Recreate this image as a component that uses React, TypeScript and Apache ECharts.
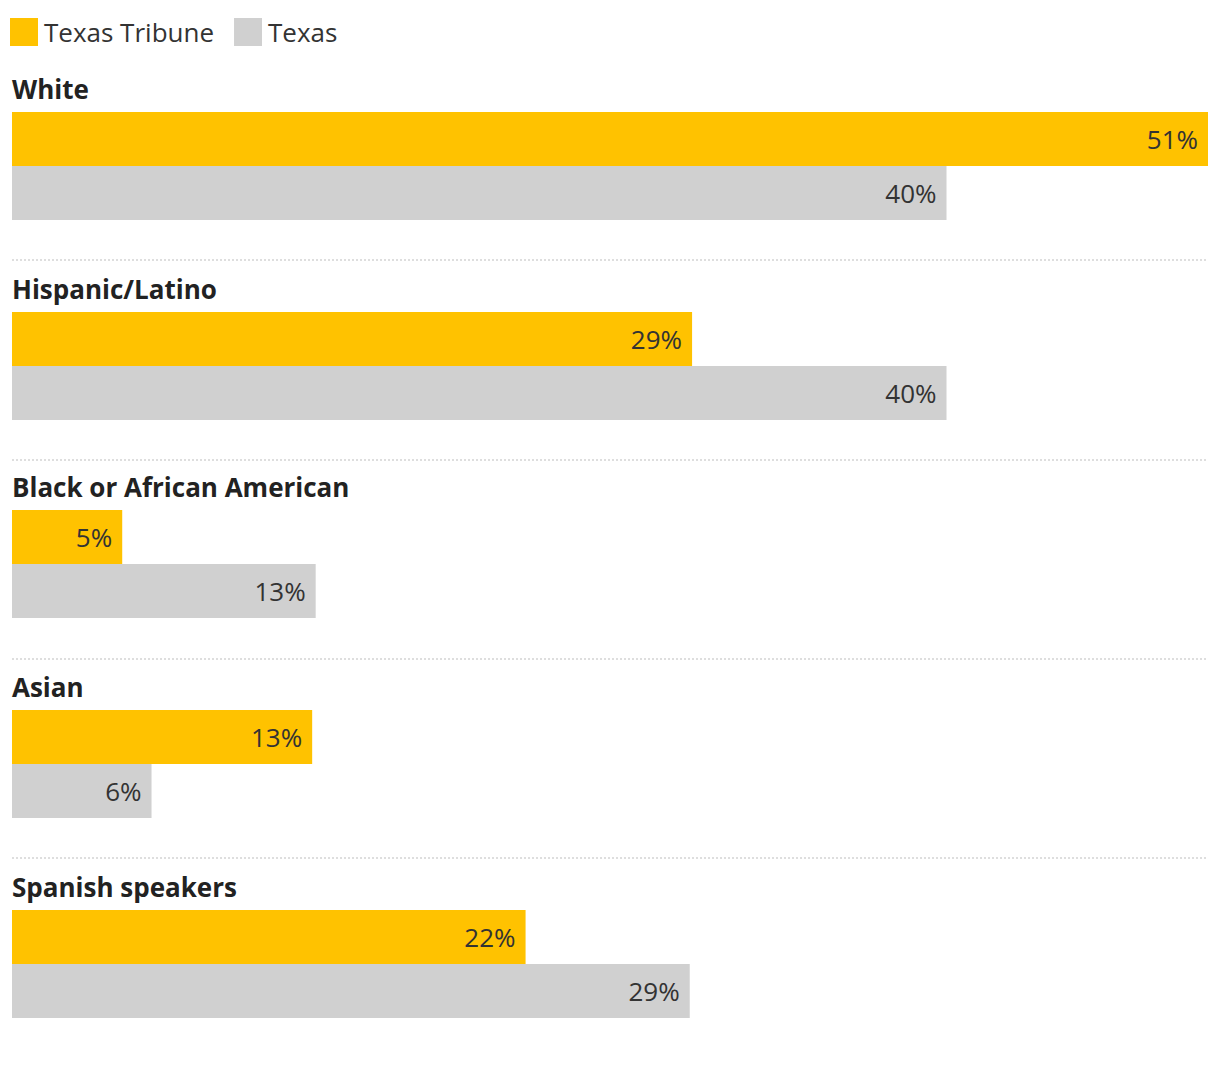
import React, { useEffect, useRef } from "react";
import * as echarts from "echarts";

const categories = ["White", "Hispanic/Latino", "Black or African American", "Asian", "Spanish speakers"];
const seriesNames = ["Texas Tribune", "Texas"];
const tribuneValues = [51, 29, 4.7, 12.8, 21.9];
const texasValues = [39.85, 39.85, 12.95, 5.95, 28.9];
const colors = ["#ffc200", "#d0d0d0"];

const FONT = "'Open Sans', 'Noto Sans', sans-serif";
const gridTops = [104, 304, 502, 702, 902];
const sepYs = [252, 452, 651, 850];

export default function App() {
  const ref = useRef<HTMLDivElement>(null);
  useEffect(() => {
    if (!ref.current) return;
    const chart = echarts.init(ref.current, null, { renderer: "svg" });
    const grids: any[] = [];
    const xAxes: any[] = [];
    const yAxes: any[] = [];
    const series: any[] = [];
    const graphics: any[] = [];
    const maxV = Math.max(...tribuneValues, ...texasValues);
    categories.forEach((cat, i) => {
      grids.push({ left: 4, right: 4, top: gridTops[i], height: 108 });
      xAxes.push({ gridIndex: i, type: "value", min: 0, max: maxV, show: false });
      yAxes.push({ gridIndex: i, type: "category", data: [cat], inverse: true, show: false });
      [tribuneValues, texasValues].forEach((vals, k) => {
        series.push({
          type: "bar",
          name: seriesNames[k],
          xAxisIndex: i,
          yAxisIndex: i,
          data: [vals[i]],
          barWidth: 54,
          barGap: "0%",
          barCategoryGap: 0,
          itemStyle: { color: colors[k] },
          label: {
            show: true,
            position: "insideRight",
            distance: 10,
            fontFamily: FONT,
            fontSize: 26,
            color: "#333",
            formatter: (p: any) => Math.round(p.value) + "%",
          },
        });
      });
      graphics.push({
        type: "text",
        left: 4,
        top: gridTops[i] - 36,
        style: { text: cat, fontFamily: FONT, fontSize: 26, fontWeight: "bold", fill: "#222" },
      });
    });
    sepYs.forEach((y) => {
      graphics.push({
        type: "line",
        shape: { x1: 4, y1: y, x2: 1200, y2: y },
        style: { stroke: "#d3d3d3", lineWidth: 1.5, lineDash: [2, 2] },
      });
    });
    chart.setOption({
      animation: false,
      legend: {
        left: 2,
        top: 10,
        padding: 0,
        itemWidth: 28,
        itemHeight: 28,
        itemGap: 20,
        icon: "rect",
        data: seriesNames,
        textStyle: { fontFamily: FONT, fontSize: 26, color: "#333", padding: [0, 0, 0, 1] },
      },
      grid: grids,
      xAxis: xAxes,
      yAxis: yAxes,
      series,
      graphic: graphics,
    });
    return () => chart.dispose();
  }, []);
  return <div ref={ref} style={{ width: 1204, height: 1052 }} />;
}
